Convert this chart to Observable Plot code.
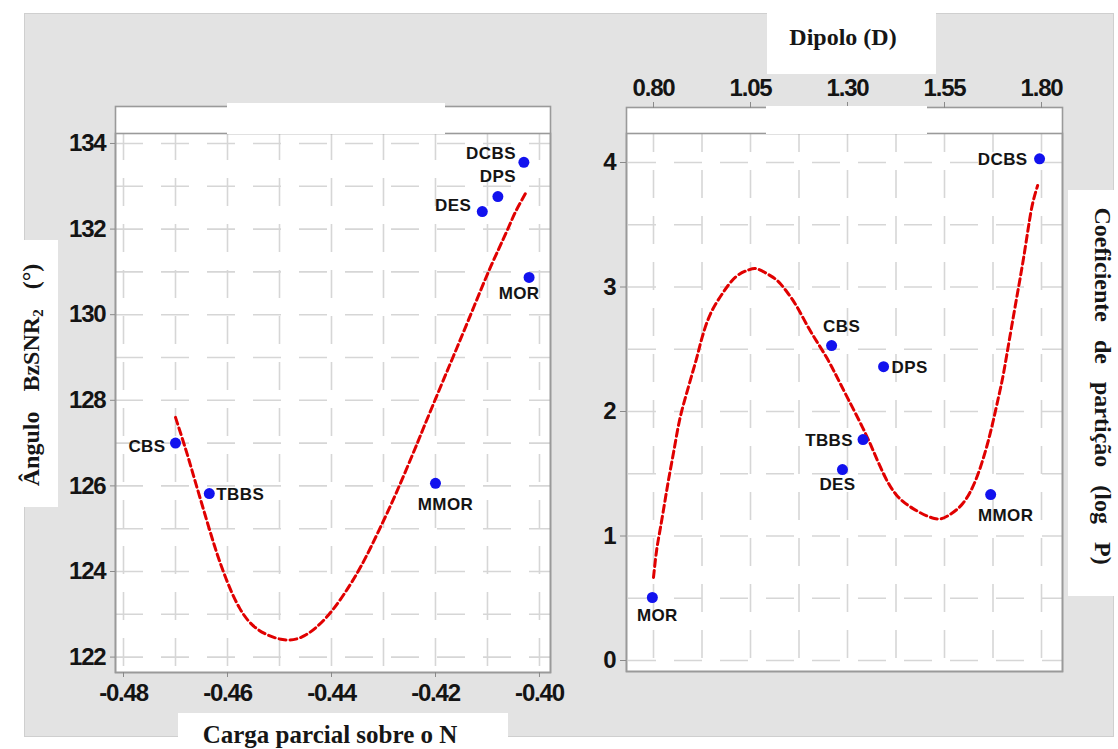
<!DOCTYPE html>
<html><head><meta charset="utf-8">
<script src="https://cdn.jsdelivr.net/npm/d3@7"></script>
<script src="https://cdn.jsdelivr.net/npm/@observablehq/plot@0.6"></script>
<style>
html,body{margin:0;padding:0;background:#fff}
body{width:1118px;height:749px;overflow:hidden;position:relative}
.abs{position:absolute}
#bg{left:24px;top:13px;width:1090px;height:724px;background:#e3e3e3;border:1px solid #cfcfcf;box-sizing:border-box}
.wb{background:#fff}
svg text{font-family:"Liberation Sans",Arial,sans-serif}
g[aria-label$="tick label"] text{letter-spacing:-1.2px}
g[aria-label="text"] text{letter-spacing:0.4px}
#titles text{font-family:"Liberation Serif","Times New Roman",serif;font-weight:bold;font-size:24px;fill:#161616}
</style></head><body>
<div id="bg" class="abs"></div>
<div class="abs wb" style="left:24px;top:240px;width:34px;height:267px"></div>
<div class="abs wb" style="left:178px;top:713px;width:330px;height:36px"></div>
<div class="abs wb" style="left:767px;top:12px;width:169px;height:62px"></div>
<div class="abs wb" style="left:1068px;top:190px;width:50px;height:406px"></div>
<div id="left" class="abs" style="left:0;top:0"></div>
<div id="right" class="abs" style="left:580px;top:0"></div>
<div class="abs wb" style="left:227px;top:103px;width:218px;height:31px"></div>
<div class="abs wb" style="left:766px;top:106px;width:161px;height:28px"></div>
<svg id="titles" class="abs" style="left:0;top:0" width="1118" height="749">
  <text x="330" y="743" text-anchor="middle" style="font-size:25px">Carga parcial sobre o N</text>
  <text x="843" y="45" text-anchor="middle">Dipolo (D)</text>
  <text transform="translate(39,375) rotate(-90)" text-anchor="middle" style="word-spacing:14px">Ângulo BzSNR<tspan font-size="15" dy="4">2</tspan><tspan dy="-4"> (°)</tspan></text>
  <text transform="translate(1095,386) rotate(90)" text-anchor="middle" style="word-spacing:12px">Coeficiente de partição (log P)</text>
</svg>
<script>
// ---- Left panel data: partial charge on N vs BzSNR2 angle ----
const leftNames  = ["CBS", "TBBS", "MMOR", "DES", "DPS", "DCBS", "MOR"];
const leftCharge = [-0.470, -0.4635, -0.420, -0.411, -0.408, -0.403, -0.402];
const leftAngle  = [127.0, 125.82, 126.06, 132.41, 132.76, 133.56, 130.87];
// fitted curve
const leftFitX = [-0.4700,-0.4679,-0.4662,-0.4644,-0.4625,-0.4604,-0.4577,-0.4542,-0.4494,-0.4452,-0.4412,-0.4377,-0.4342,-0.4308,-0.4275,-0.4240,-0.42225,-0.41904,-0.41583,-0.41263,-0.40942,-0.40635,-0.40462,-0.40256];
const leftFitY = [127.60,126.80,126.10,125.36,124.60,123.87,123.15,122.65,122.41,122.50,122.90,123.45,124.15,124.98,125.85,126.85,127.37,128.31,129.24,130.18,131.11,131.93,132.40,132.86];
const leftTicksX = [-0.48, -0.46, -0.44, -0.42, -0.40];
const leftTicksY = [122, 124, 126, 128, 130, 132, 134];
const leftGridX = [-0.48,-0.47,-0.46,-0.45,-0.44,-0.43,-0.42,-0.41,-0.40];
const leftGridY = [122,123,124,125,126,127,128,129,130,131,132,133,134];

// ---- Right panel data: dipole vs log P ----
const rightNames  = ["MOR", "CBS", "DES", "TBBS", "DPS", "MMOR", "DCBS"];
const rightDipole = [0.797, 1.259, 1.287, 1.340, 1.393, 1.669, 1.795];
const rightLogP   = [0.506, 2.53, 1.534, 1.775, 2.36, 1.333, 4.03];
const rightFitX = [0.800,0.808,0.818,0.831,0.841,0.854,0.867,0.8825,0.8997,0.9126,0.9255,0.9469,0.9771,1.0113,1.0456,1.0673,1.0930,1.1188,1.1446,1.1704,1.1961,1.2219,1.2477,1.2691,1.2948,1.339,1.367,1.396,1.426,1.468,1.524,1.560,1.597,1.630,1.656,1.674,1.689,1.702,1.720,1.738,1.754,1.769,1.779,1.790];
const rightFitY = [0.667,0.884,1.068,1.309,1.490,1.711,1.928,2.115,2.303,2.445,2.597,2.785,2.945,3.079,3.138,3.146,3.106,3.052,2.958,2.838,2.691,2.557,2.425,2.300,2.142,1.871,1.680,1.480,1.330,1.222,1.141,1.165,1.261,1.446,1.687,1.904,2.112,2.305,2.627,2.948,3.237,3.534,3.695,3.815];
const rightTicksX = [0.80, 1.05, 1.30, 1.55, 1.80];
const rightTicksY = [0, 1, 2, 3, 4];
const rightGridX = [0.8,0.925,1.05,1.175,1.3,1.425,1.55,1.675,1.8];
const rightGridY = [0,0.5,1,1.5,2,2.5,3,3.5,4];

// label placement (dx, dy, anchor) – styling config
const leftPlace = {CBS:[-10,3,"end"], TBBS:[7,1,"start"], MMOR:[10,21,"middle"], DES:[-11,-6,"end"], DPS:[0,-20,"middle"], DCBS:[-8,-9,"end"], MOR:[-10,16,"middle"]};
const rightPlace = {MOR:[5,18,"middle"], CBS:[10,-19,"middle"], DES:[-5,15,"middle"], TBBS:[-10,1,"end"], DPS:[8,1,"start"], MMOR:[15,21,"middle"], DCBS:[-12,1,"end"]};

const zip = (n, xs, ys) => n.map((name, i) => ({name, x: xs[i], y: ys[i]}));
const leftPts = zip(leftNames, leftCharge, leftAngle);
const rightPts = zip(rightNames, rightDipole, rightLogP);
const leftFit = leftFitX.map((x, i) => ({x, y: leftFitY[i]}));
const rightFit = rightFitX.map((x, i) => ({x, y: rightFitY[i]}));

const gridStyle = {stroke: "#d6d6d6", strokeOpacity: 1, strokeWidth: 1.6, strokeDasharray: "28,18"};
const axisText = {fontSize: 24, fontWeight: "bold", fill: "#141414", stroke: "#8a8a8a", label: null};
const fitStyle = {x: "x", y: "y", stroke: "#e00000", strokeWidth: 3, strokeDasharray: "7,4", curve: "natural"};
const labelMarks = (pts, place) => pts.map(p => {
  const [dx, dy, a] = place[p.name];
  return Plot.text([p], {x: "x", y: "y", text: "name", dx, dy, textAnchor: a, fontSize: 17, fontWeight: "bold", fill: "#141414"});
});

const left = Plot.plot({
  width: 565, height: 749, marginLeft: 115, marginRight: 15, marginTop: 106, marginBottom: 77,
  style: {background: "transparent", overflow: "visible"},
  x: {domain: [-0.48154, -0.39788]},
  y: {domain: [121.64, 134.864]},
  marks: [
    Plot.frame({fill: "white", stroke: null}),
    Plot.gridX(leftGridX, {...gridStyle, insetTop: 28, strokeDashoffset: 2}),
    Plot.gridY(leftGridY, {...gridStyle, strokeDashoffset: 0}),
    Plot.frame({stroke: "#9a9a9a", strokeWidth: 1.6}),
    Plot.frame({stroke: "#9a9a9a", strokeWidth: 1.6, insetTop: 27}),
    Plot.axisX(leftTicksX, {...axisText, anchor: "bottom", tickSize: 5, tickPadding: 6, tickFormat: d => d.toFixed(2)}),
    Plot.axisY(leftTicksY, {...axisText, anchor: "left", tickSize: 5, tickPadding: 5, tickFormat: d => String(d)}),
    Plot.line(leftFit, fitStyle),
    Plot.dot(leftPts, {x: "x", y: "y", r: 5.5, fill: "#1212ee", stroke: "none"}),
    ...labelMarks(leftPts, leftPlace)
  ]
});
document.getElementById("left").append(left);

const right = Plot.plot({
  width: 538, height: 749, marginLeft: 46, marginRight: 56, marginTop: 107, marginBottom: 78,
  style: {background: "transparent", overflow: "visible"},
  x: {domain: [0.73041, 1.85412]},
  y: {domain: [-0.0883, 4.4418]},
  marks: [
    Plot.frame({fill: "white", stroke: null}),
    Plot.gridX(rightGridX, {...gridStyle, insetTop: 27, strokeDashoffset: 10}),
    Plot.gridY(rightGridY, {...gridStyle, strokeDashoffset: 44}),
    Plot.frame({stroke: "#9a9a9a", strokeWidth: 1.6}),
    Plot.frame({stroke: "#9a9a9a", strokeWidth: 1.6, insetTop: 26}),
    Plot.axisX(rightTicksX, {...axisText, anchor: "top", tickSize: 6, tickPadding: 6, tickFormat: d => d.toFixed(2)}),
    Plot.axisY(rightTicksY, {...axisText, anchor: "left", tickSize: 6, tickPadding: 5, tickFormat: d => String(d)}),
    Plot.line(rightFit, fitStyle),
    Plot.dot(rightPts, {x: "x", y: "y", r: 5.5, fill: "#1212ee", stroke: "none"}),
    ...labelMarks(rightPts, rightPlace)
  ]
});
document.getElementById("right").append(right);
</script>
</body></html>
